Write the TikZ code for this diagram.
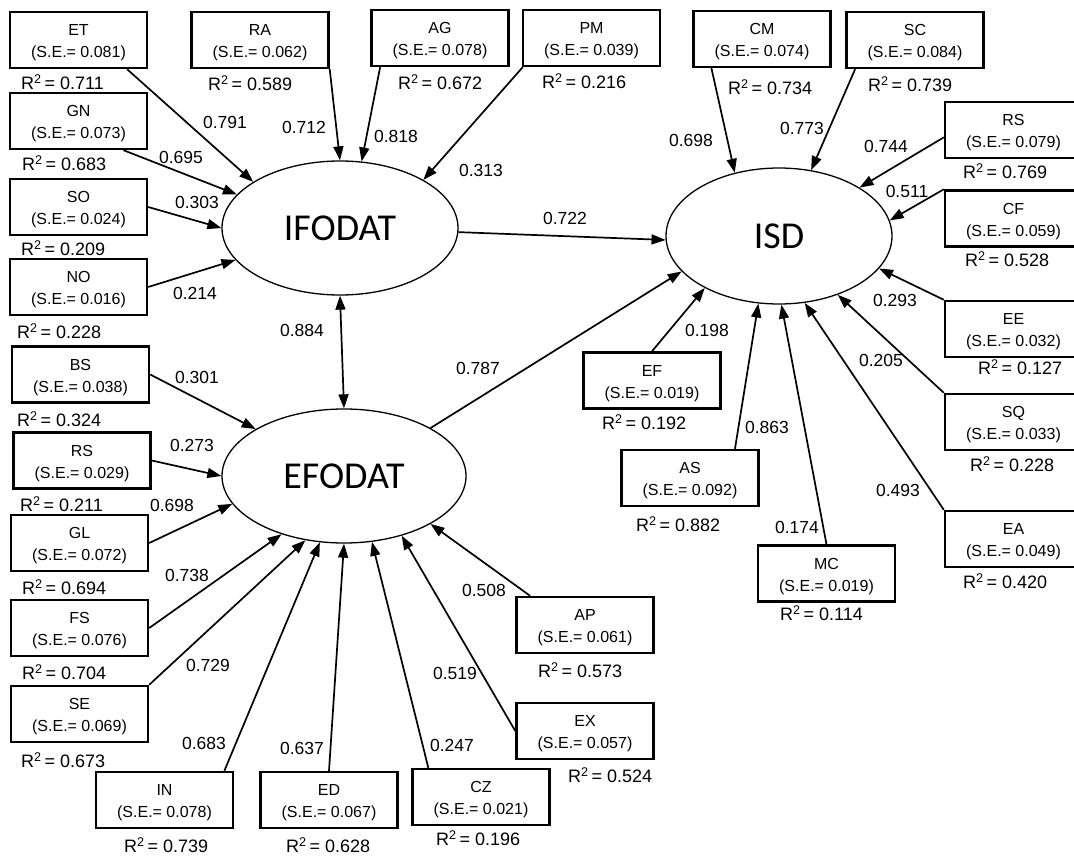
\documentclass[tikz,border=0pt]{standalone}
\usepackage{fontspec}
\setmainfont{Liberation Sans}
\newfontfamily\carlito{Carlito}
\usetikzlibrary{arrows.meta, shapes.geometric}

\newcommand{\rtwo}[1]{R\textsuperscript{2}\,= #1}
\newcommand{\ind}[2]{\rule{0pt}{17pt}#1\\(S.E.= #2)}

\begin{document}
\begin{tikzpicture}[x=1pt, y=-1pt,
    >={Triangle[length=14pt,width=10pt]},
    item/.style={rectangle,draw,line width=2.4pt,minimum width=137pt,minimum height=56pt,
        inner sep=0pt,align=center,font=\fontsize{16}{22}\selectfont},
    latent/.style={ellipse,draw,line width=1.3pt,inner sep=0pt,
        font=\carlito\fontsize{38}{40}\selectfont},
    rsq/.style={anchor=west,inner sep=0pt,font=\fontsize{18}{20}\selectfont},
    coef/.style={inner sep=0pt,font=\fontsize{17.5}{20}\selectfont},
    link/.style={->,line width=1.7pt}]

        \path[use as bounding box, fill=white] (0,0) rectangle (1074,859);
        \clip (0,0) rectangle (1074,859);

        % latent variables
        \node[latent, minimum width=236pt, minimum height=134pt] (ifodat) at (340,228) {IFODAT};
        \node[latent, minimum width=244pt, minimum height=134pt] (efodat) at (344,476) {EFODAT};
        \node[latent, minimum width=226pt, minimum height=136pt] (isd) at (779,236) {ISD};

        % indicators of IFODAT
        \node[item] (b_et) at (78.5,40) {\ind{ET}{0.081}};
        \node[rsq] (r_et) at (21,82) {\rtwo{0.711}};

        \node[item] (b_gn) at (78.5,121) {\ind{GN}{0.073}};
        \node[rsq] (r_gn) at (22,163) {\rtwo{0.683}};

        \node[item] (b_so) at (78.5,207) {\ind{SO}{0.024}};
        \node[rsq] (r_so) at (21,248) {\rtwo{0.209}};

        \node[item] (b_no) at (78.5,287) {\ind{NO}{0.016}};
        \node[rsq] (r_no) at (17,331) {\rtwo{0.228}};

        \node[item] (b_ra) at (260,40) {\ind{RA}{0.062}};
        \node[rsq] (r_ra) at (208,83) {\rtwo{0.589}};

        \node[item] (b_ag) at (440,38) {\ind{AG}{0.078}};
        \node[rsq] (r_ag) at (398,82) {\rtwo{0.672}};

        \node[item] (b_pm) at (591.5,38) {\ind{PM}{0.039}};
        \node[rsq] (r_pm) at (542,81) {\rtwo{0.216}};

        % indicators of ISD
        \node[item] (b_cm) at (762,39) {\ind{CM}{0.074}};
        \node[rsq] (r_cm) at (728,87) {\rtwo{0.734}};

        \node[item] (b_sc) at (915,40) {\ind{SC}{0.084}};
        \node[rsq] (r_sc) at (868,84) {\rtwo{0.739}};

        \node[item] (b_rs_2) at (1013.5,130) {\ind{RS}{0.079}};
        \node[rsq] (r_rs_2) at (963,171) {\rtwo{0.769}};

        \node[item] (b_cf) at (1013.5,218.5) {\ind{CF}{0.059}};
        \node[rsq] (r_cf) at (965,259) {\rtwo{0.528}};

        \node[item] (b_ee) at (1013.5,329) {\ind{EE}{0.032}};
        \node[rsq] (r_ee) at (978,367) {\rtwo{0.127}};

        \node[item] (b_sq) at (1013.5,422) {\ind{SQ}{0.033}};
        \node[rsq] (r_sq) at (970,464) {\rtwo{0.228}};

        \node[item] (b_ea) at (1013.5,539) {\ind{EA}{0.049}};
        \node[rsq] (r_ea) at (963,581) {\rtwo{0.420}};

        \node[item] (b_mc) at (826.5,573.5) {\ind{MC}{0.019}};
        \node[rsq] (r_mc) at (780,613) {\rtwo{0.114}};

        \node[item] (b_as) at (690,478) {\ind{AS}{0.092}};
        \node[rsq] (r_as) at (636,524) {\rtwo{0.882}};

        \node[item] (b_ef) at (652,380.5) {\ind{EF}{0.019}};
        \node[rsq] (r_ef) at (602,422) {\rtwo{0.192}};

        % indicators of EFODAT
        \node[item] (b_ap) at (585,625) {\ind{AP}{0.061}};
        \node[rsq] (r_ap) at (538,670) {\rtwo{0.573}};

        \node[item] (b_ex) at (585,731) {\ind{EX}{0.057}};
        \node[rsq] (r_ex) at (568,775) {\rtwo{0.524}};

        \node[item] (b_cz) at (481,797) {\ind{CZ}{0.021}};
        \node[rsq] (r_cz) at (436,838) {\rtwo{0.196}};

        \node[item] (b_ed) at (329,800) {\ind{ED}{0.067}};
        \node[rsq] (r_ed) at (286,845) {\rtwo{0.628}};

        \node[item] (b_in) at (164.5,800) {\ind{IN}{0.078}};
        \node[rsq] (r_in) at (124,845) {\rtwo{0.739}};

        \node[item] (b_bs) at (80.5,374.5) {\ind{BS}{0.038}};
        \node[rsq] (r_bs) at (17,419) {\rtwo{0.324}};

        \node[item] (b_rs_1) at (82,460.5) {\ind{RS}{0.029}};
        \node[rsq] (r_rs_1) at (20,504) {\rtwo{0.211}};

        \node[item] (b_gl) at (79.5,543) {\ind{GL}{0.072}};
        \node[rsq] (r_gl) at (22,587) {\rtwo{0.694}};

        \node[item] (b_fs) at (79.5,628) {\ind{FS}{0.076}};
        \node[rsq] (r_fs) at (22,672) {\rtwo{0.704}};

        \node[item] (b_se) at (79.5,714) {\ind{SE}{0.069}};
        \node[rsq] (r_se) at (21,760) {\rtwo{0.673}};

        % path coefficients
        \node[coef] (p_et) at (225,122) {0.791};
        \node[coef] (p_ra) at (304,127) {0.712};
        \node[coef] (p_gn) at (181,157) {0.695};
        \node[coef] (p_so) at (197,202) {0.303};
        \node[coef] (p_no) at (195,293) {0.214};
        \node[coef] (p_ag) at (396,136) {0.818};
        \node[coef] (p_pm) at (481,170) {0.313};
        \node[coef] (p_ifo) at (302,330) {0.884};
        \node[coef] (p_isd_1) at (565,218) {0.722};
        \node[coef] (p_isd_2) at (478,368) {0.787};
        \node[coef] (p_cm) at (691,140) {0.698};
        \node[coef] (p_sc) at (802,128) {0.773};
        \node[coef] (p_rs_2) at (886,146) {0.744};
        \node[coef] (p_cf) at (907,191) {0.511};
        \node[coef] (p_ee) at (895,300) {0.293};
        \node[coef] (p_ef) at (707,330) {0.198};
        \node[coef] (p_sq) at (881,360) {0.205};
        \node[coef] (p_as) at (767,427) {0.863};
        \node[coef] (p_ea) at (898,490) {0.493};
        \node[coef] (p_mc) at (797,527) {0.174};
        \node[coef] (p_ap) at (484,590) {0.508};
        \node[coef] (p_ex) at (455,673) {0.519};
        \node[coef] (p_cz) at (452,745) {0.247};
        \node[coef] (p_bs) at (197,377) {0.301};
        \node[coef] (p_rs_1) at (192,445) {0.273};
        \node[coef] (p_gl) at (172,505) {0.698};
        \node[coef] (p_fs) at (187,575) {0.738};
        \node[coef] (p_se) at (208,665) {0.729};
        \node[coef] (p_in) at (204,743) {0.683};
        \node[coef] (p_ed) at (302,748) {0.637};

        \draw[link] (b_et.-31) -- (ifodat.152);
        \draw[link] (b_gn.-33) -- (ifodat.162);
        \draw[link] (b_so.east) -- (ifodat.180);
        \draw[link] (b_no.east) -- (ifodat.197);
        \draw[link] (b_ra.south east) -- (ifodat.90);
        \draw[link] (b_ag.206) -- (ifodat.72);
        \draw[link] (b_pm.203) -- (ifodat.30);

        \draw[link, <->] (ifodat.south) -- (efodat.north);
        \draw[link] (ifodat.-2) -- (isd.182);
        \draw[link] (efodat.29) -- (isd.200);

        \draw[link] (b_bs.east) -- (efodat.152);
        \draw[link] (b_rs_1.east) -- (efodat.west);
        \draw[link] (b_gl.east) -- (efodat.194);
        \draw[link] (b_fs.east) -- (efodat.223);
        \draw[link] (b_se.north east) -- (efodat.239);
        \draw[link] (b_in.26) -- (efodat.250);
        \draw[link] (b_ed.north) -- (efodat.south);
        \draw[link] (b_cz.151) -- (efodat.293);
        \draw[link] (b_ex.west) -- (efodat.314);
        \draw[link] (b_ap.152) -- (efodat.331);

        \draw[link] (b_cm.210) -- (isd.125);
        \draw[link] (b_sc.206) -- (isd.64);
        \draw[link] (b_rs_2.186) -- (isd.31);
        \draw[link] (b_cf.north west) -- (isd.8);
        \draw[link] (b_ee.north west) -- (isd.342);
        \draw[link] (b_sq.north west) -- (isd.315);
        \draw[link] (b_ea.north west) -- (isd.291);
        \draw[link] (b_mc.north) -- (isd.272);
        \draw[link] (b_as.33) -- (isd.253);
        \draw[link] (b_ef.north) -- (isd.215);

    \end{tikzpicture}
\end{document}
